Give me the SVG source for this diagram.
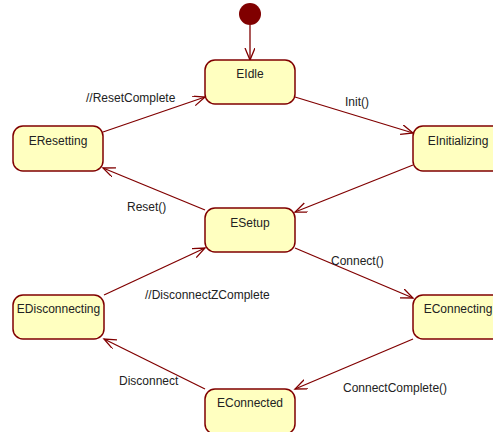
<svg xmlns="http://www.w3.org/2000/svg" width="493" height="432" viewBox="0 0 493 432">
<style>
.st rect{fill:#FFFFC0;stroke:#800000;stroke-width:1.5}
.st text{font-family:"Liberation Sans",Arial,sans-serif;font-size:12px;fill:#222;text-anchor:middle}
.lbl{font-family:"Liberation Sans",Arial,sans-serif;font-size:12px;fill:#222}
.cn line{stroke:#800000;stroke-width:1.3;marker-end:url(#arr)}
</style>
<defs>
<marker id="arr" markerUnits="userSpaceOnUse" markerWidth="14" markerHeight="12" refX="12" refY="5" orient="auto" viewBox="0 0 14 12">
<path d="M0,0 L12,5 L0,10" fill="none" stroke="#800000" stroke-width="1.3"/>
</marker>
</defs>
<rect width="493" height="432" fill="#fff"/>
<g id="initial"><circle cx="250" cy="14" r="11" fill="#800000"/></g>
<g class="cn" id="connectors">
<line x1="250" y1="25" x2="250" y2="60"/>
<line x1="103" y1="132" x2="205" y2="97"/>
<line x1="295" y1="97" x2="413" y2="133"/>
<line x1="413" y1="165" x2="295" y2="212"/>
<line x1="205" y1="210" x2="103" y2="168"/>
<line x1="295" y1="248" x2="413" y2="298"/>
<line x1="104" y1="295" x2="205" y2="248"/>
<line x1="413" y1="339" x2="295" y2="389"/>
<line x1="205" y1="389" x2="104" y2="339"/>
</g>
<g id="labels">
<text class="lbl" x="86" y="102">//ResetComplete</text>
<text class="lbl" x="345" y="106">Init()</text>
<text class="lbl" x="127" y="211">Reset()</text>
<text class="lbl" x="331" y="265">Connect()</text>
<text class="lbl" x="145" y="299">//DisconnectZComplete</text>
<text class="lbl" x="119" y="385">Disconnect</text>
<text class="lbl" x="343" y="392">ConnectComplete()</text>
</g>
<g class="st" id="EIdle"><rect x="205" y="60" width="90" height="44" rx="10"/><text x="250" y="78">EIdle</text></g>
<g class="st" id="EResetting"><rect x="13" y="126" width="90" height="45" rx="10"/><text x="58" y="145">EResetting</text></g>
<g class="st" id="EInitializing"><rect x="413" y="126" width="90" height="45" rx="10"/><text x="458" y="145">EInitializing</text></g>
<g class="st" id="ESetup"><rect x="205" y="208" width="90" height="44" rx="10"/><text x="250" y="227">ESetup</text></g>
<g class="st" id="EDisconnecting"><rect x="13" y="295" width="91" height="44" rx="10"/><text x="58.5" y="313">EDisconnecting</text></g>
<g class="st" id="EConnecting"><rect x="413" y="295" width="90" height="44" rx="10"/><text x="458" y="313">EConnecting</text></g>
<g class="st" id="EConnected"><rect x="205" y="389" width="90" height="45" rx="10"/><text x="250" y="407">EConnected</text></g>
</svg>
